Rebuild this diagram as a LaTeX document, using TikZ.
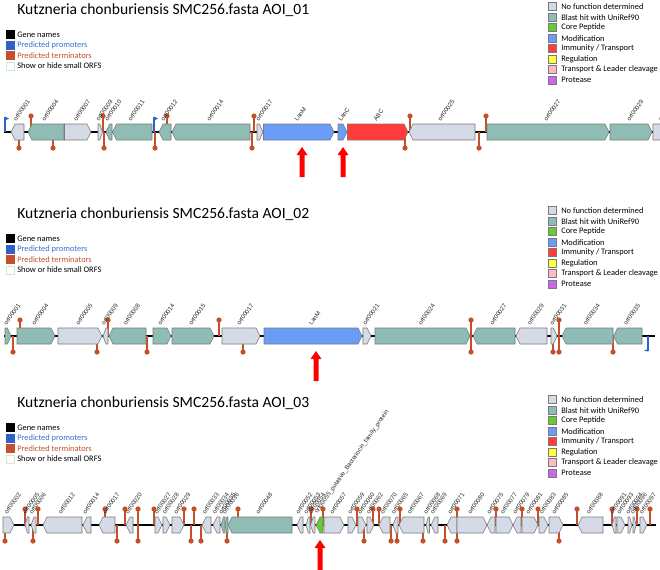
\documentclass[tikz,border=0pt]{standalone}
\usepackage{fontspec}
\setmainfont{Carlito}
\newfontfamily\lblfont{Liberation Sans}
\definecolor{nofunc}{HTML}{D4DAE6}
\definecolor{blast}{HTML}{8FBDB6}
\definecolor{core}{HTML}{66CC33}
\definecolor{modif}{HTML}{6A9CF8}
\definecolor{immun}{HTML}{FF3B3B}
\definecolor{regul}{HTML}{FFFF40}
\definecolor{transp}{HTML}{FFB8C6}
\definecolor{protc}{HTML}{CC66EE}
\definecolor{termc}{HTML}{C4502B}
\definecolor{promc}{HTML}{2F62C8}
\definecolor{promtext}{HTML}{3A6FD8}
\definecolor{geneline}{HTML}{7A7A7A}
\definecolor{smallorf}{HTML}{CCEBCC}
\newcount\lblc
\newcommand\gene[6]{%
  \pgfmathsetmacro\tl{min(4,0.6*(#3-#2))}%
  \if#4R
    \filldraw[genebox, fill=#5] (#2,#1-8) -- ({#3-\tl},#1-8) -- (#3,#1) -- ({#3-\tl},#1+8) -- (#2,#1+8) -- cycle;
  \else
    \filldraw[genebox, fill=#5] (#2,#1) -- ({#2+\tl},#1-8) -- (#3,#1-8) -- (#3,#1+8) -- ({#2+\tl},#1+8) -- cycle;
  \fi
  \global\advance\lblc by 1
  \node[glabel] (lbl\the\lblc) at ({(#2+#3)/2-1},#1-10) {#6};
}
\newcommand\term[3]{%
  \draw[termstem] (#2,#1) -- (#2,{#1+16*#3});
  \fill[termc] (#2,{#1+16*#3}) circle (2.6);
}
\newcommand\promup[2]{%
  \draw[promc, line width=0.9pt] (#2,#1) -- (#2,#1-15);
  \fill[promc] (#2,#1-15.5) -- (#2+4,#1-13.5) -- (#2,#1-11.5) -- cycle;
}
\newcommand\promdown[2]{%
  \draw[promc, line width=0.9pt] (#2,#1) -- (#2,#1+15);
  \fill[promc] (#2,#1+15.5) -- (#2-4,#1+14.5) -- (#2,#1+13) -- cycle;
}
\newcommand\redarrow[3]{% #1 track y, #2 x, #3 name
  \fill[red] (#2-2.5,#1+45) -- (#2-2.5,#1+23) -- (#2-5.5,#1+23) -- (#2,#1+15)
    -- (#2+5.5,#1+23) -- (#2+2.5,#1+23) -- (#2+2.5,#1+45) -- cycle;
  \coordinate (#3) at (#2,#1+15);
}
\newcommand\panel[2]{% #1 vertical offset, #2 id
  \node[titletext] (title#2) at (17,{10+#1}) {Kutzneria chonburiensis SMC256.fasta AOI\_#2};
  \node[legsq, fill=black, draw=black] (sqa#2) at (10.5,{34.5+#1}) {};
  \node[legtext] (ta#2) at (17,{34.5+#1}) {Gene names};
  \node[legsq, fill=promc, draw=promc] (sqb#2) at (10.5,{45+#1}) {};
  \node[legtext, text=promtext] (tb#2) at (17,{45+#1}) {Predicted promoters};
  \node[legsq, fill=termc, draw=termc] (sqc#2) at (10.5,{55.5+#1}) {};
  \node[legtext, text=termc] (tc#2) at (17,{55.5+#1}) {Predicted terminators};
  \node[legsq, fill=white, draw=smallorf] (sqd#2) at (10.5,{66+#1}) {};
  \node[legtext] (td#2) at (17,{66+#1}) {Show or hide small ORFS};
  \foreach \i/\c/\t in {0/nofunc/{No function determined}, 1/blast/{Blast hit with UniRef90},
      2/core/{Core Peptide}, 3/modif/{Modification}, 4/immun/{Immunity / Transport},
      5/regul/{Regulation}, 6/transp/{Transport \& Leader cleavage}, 7/protc/{Protease}}{
    \node[legsq, fill=\c, draw=geneline] (rs\i#2) at (552,{6.7+10.5*\i+#1}) {};
    \node[legtext] (rt\i#2) at (561,{6.7+10.5*\i+#1}) {\t};
  }
}
\tikzset{
  genebox/.style={draw=geneline, line width=0.45pt},
  backbone/.style={draw=black, line width=0.9pt},
  termstem/.style={draw=termc, line width=0.9pt},
  glabel/.style={font=\lblfont\fontsize{4.6}{5}\selectfont, rotate=55, anchor=south west,
    inner sep=0pt, text=black!85},
  legtext/.style={font=\fontsize{6.3}{7.5}\selectfont, anchor=west, inner sep=0pt},
  legsq/.style={minimum size=6, inner sep=0pt, line width=0.4pt},
  titletext/.style={font=\fontsize{11.7}{14}\selectfont, anchor=west, inner sep=0pt}
}
\begin{document}
\begin{tikzpicture}[x=0.75pt, y=-0.75pt]
\fill[white] (0,0) rectangle (660,569);
\useasboundingbox (0,0) rectangle (660,569);
% ---------------- panel 1 ----------------
\panel{0}{01}
\draw[backbone] (4,132) -- (668,132);
\foreach \x in {19,53,104,155,252,405,479} {\term{132}{\x}{1}}
\foreach \x in {31,103,167,254,410,486} {\term{132}{\x}{-1}}
\promup{132}{5}
\promup{132}{154}
\foreach \a/\b/\d/\c/\t in {
  11/24/L/nofunc/orf00001, 28/64/L/blast/orf00004, 64.5/91/R/nofunc/orf00007,
  98/102.5/R/nofunc/orf00009, 106/112/L/blast/orf00010, 112.5/152/L/blast/orf00011,
  159/171/L/blast/orf00012, 172/250/L/blast/orf00014, 257/263/R/nofunc/orf00017,
  263.5/334/R/modif/LanM, 338/347/R/modif/LanC, 347.5/408/R/immun/ABC,
  409/475/L/nofunc/orf00025, 487/609/R/blast/orf00027, 610/652/R/blast/orf00029,
  653/672/R/nofunc/orf00030}{\gene{132}{\a}{\b}{\d}{\c}{\t}}
\redarrow{132}{302}{arA}
\redarrow{132}{343}{arB}
% ---------------- panel 2 ----------------
\panel{204}{02}
\draw[backbone] (4,336) -- (655,336);
\foreach \x in {13,97,147,243,471,553,559,613} {\term{336}{\x}{1}}
\foreach \x in {20,108,219,471,559} {\term{336}{\x}{-1}}
\promdown{336}{648}
\foreach \a/\b/\d/\c/\t in {
  5/11/R/blast/orf00001, 17/55/R/blast/orf00004, 58/102/R/nofunc/orf00005,
  103/108/L/nofunc/orf00009, 109/146/L/blast/orf00008, 153/171/R/blast/orf00014,
  172/214/R/blast/orf00015, 222/260/R/nofunc/orf00017, 264/362/R/modif/LanM,
  363/371/R/nofunc/orf00021, 375/470/R/blast/orf00024, 473/515/L/blast/orf00027,
  516/547/L/nofunc/orf00029, 551/557/R/nofunc/orf00031, 562/613/L/blast/orf00034,
  613.5/642/L/blast/orf00035}{\gene{336}{\a}{\b}{\d}{\c}{\t}}
\redarrow{336}{316}{arC}
% ---------------- panel 3 ----------------
\panel{393}{03}
\draw[backbone] (3,525) -- (656,525);
\foreach \x in {5,33,117,138,191,201,227,364,391,397,423,445,457,559} {\term{525}{\x}{1}}
\foreach \x in {25,38,105,125,138,154,184,194,238,311,323,357,373,379,400,457,496,522,538,577,612,637,650} {\term{525}{\x}{-1}}
\foreach \a/\b/\d/\c/\t in {
  3/14/R/nofunc/orf00002, 25/29/L/nofunc/orf00005, 31/36/L/nofunc/orf00006,
  43/82/L/nofunc/orf00012, 83/91/L/nofunc/orf00014, 99/115/L/nofunc/orf00017,
  126/133/L/nofunc/orf00020, 155/162/R/nofunc/orf00027, 163/170/R/nofunc/orf00028,
  172/184/R/nofunc/orf00029, 202/211/L/nofunc/orf00033, 213/220/L/nofunc/orf00034,
  221/225/L/blast/orf00035, 225/228/L/blast/orf00036, 228/292/L/blast/orf00048,
  297/303/L/nofunc/orf00052, 306/310/L/nofunc/orf00053, 310.5/315/L/nofunc/orf00054,
  316/323/L/core/orf00055\_putative\_Bacteriocin\_family\_protein,
  324/344/R/nofunc/orf00057, 348/356/R/nofunc/orf00059, 358/366/R/nofunc/orf00060,
  367/374/R/nofunc/orf00062, 379/390/L/nofunc/orf00070, 393/398/L/nofunc/orf00065,
  399/424/L/nofunc/orf00067, 426/429.5/L/nofunc/orf00068, 431/438/L/nofunc/orf00069,
  447/457/L/nofunc/orf00071, 457/487/R/nofunc/orf00080, 487/495/L/nofunc/orf00075,
  496/513/R/nofunc/orf00077, 513/521/L/nofunc/orf00079, 522/538/R/nofunc/orf00081,
  539/548/R/nofunc/orf00083, 549/563/R/nofunc/orf00085, 578/603/L/nofunc/orf00088,
  612/616/L/nofunc/orf00091, 617/625/R/nofunc/orf00093, 628/632/R/nofunc/orf00094,
  633/636/R/nofunc/orf00096, 640/647/R/nofunc/orf00097}{\gene{525}{\a}{\b}{\d}{\c}{\t}}
\redarrow{525}{320}{arD}
\end{tikzpicture}
\end{document}
